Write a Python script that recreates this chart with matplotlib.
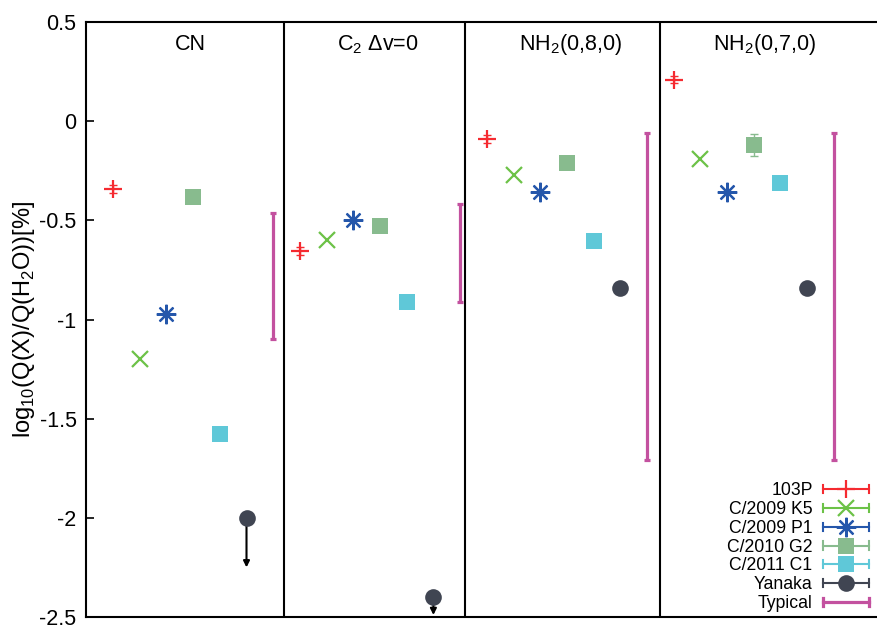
import matplotlib
matplotlib.use("Agg")
import matplotlib.pyplot as plt
from matplotlib.lines import Line2D
from matplotlib.legend_handler import HandlerBase

plt.rcParams['font.family'] = ['Liberation Sans', 'DejaVu Sans']
plt.rcParams['mathtext.fontset'] = 'custom'
plt.rcParams['mathtext.rm'] = 'Liberation Sans'

# ---- data -------------------------------------------------------------
panels = ['CN', r'C$_\mathregular{2}$ Δv=0',
          r'NH$_\mathregular{2}$(0,8,0)', r'NH$_\mathregular{2}$(0,7,0)']

comets = ['103P', 'C/2009 K5', 'C/2009 P1', 'C/2010 G2', 'C/2011 C1', 'Yanaka']

val_103P = [-0.34, -0.655, -0.09, 0.21]
val_K5 = [-1.20, -0.60, -0.27, -0.19]
val_P1 = [-0.97, -0.50, -0.355, -0.355]
val_G2 = [-0.38, -0.53, -0.21, -0.12]
val_C1 = [-1.575, -0.91, -0.605, -0.31]
val_Yanaka = [-2.00, -2.40, -0.84, -0.84]

err_103P = [0.02, 0.02, 0.02, 0.02]
err_G2 = [0.0, 0.0, 0.0, 0.055]

# Yanaka upper limits: end point of the downward arrow (None = detection)
yanaka_limit_end = [-2.25, -2.49, None, None]

typical_low = [-1.10, -0.91, -1.71, -1.71]
typical_high = [-0.465, -0.42, -0.06, -0.06]

ytick_values = [0.5, 0, -0.5, -1, -1.5, -2, -2.5]
ytick_labels = ['0.5', '0', '-0.5', '-1', '-1.5', '-2', '-2.5']

# ---- styles -----------------------------------------------------------
styles = {
    '103P':      dict(color='#f52a30', marker='+', ms=13, mew=1.6),
    'C/2009 K5': dict(color='#6cc247', marker='x', ms=11, mew=1.6),
    'C/2009 P1': dict(color='#2557ab', marker=(8, 2, 0), ms=14, mew=1.6),
    'C/2010 G2': dict(color='#88bb8e', marker='s', ms=11, mew=0),
    'C/2011 C1': dict(color='#5fc8d8', marker='s', ms=11, mew=0),
    'Yanaka':    dict(color='#404552', marker='o', ms=12, mew=0),
}
typical_color = '#c3519f'

series = {
    '103P': (val_103P, err_103P),
    'C/2009 K5': (val_K5, None),
    'C/2009 P1': (val_P1, None),
    'C/2010 G2': (val_G2, err_G2),
    'C/2011 C1': (val_C1, None),
    'Yanaka': (val_Yanaka, None),
}

n_slots = len(comets) + 1          # six comets plus the typical range
dividers = [7.4, 14.2, 21.5]
title_x = [3.88, 10.9, 18.15, 25.4]

# ---- figure -----------------------------------------------------------
W, H = 877, 626
fig = plt.figure(figsize=(W / 100, H / 100), dpi=100)
px_per_unit = 26.7
left_px, top_px, bottom_px = 86.3, 22, 617
xmax = 30
ax = fig.add_axes([left_px / W, 1 - bottom_px / H,
                   xmax * px_per_unit / W, (bottom_px - top_px) / H])
ax.set_xlim(0, xmax)
ax.set_ylim(-2.5, 0.5)

for i, name in enumerate(comets):
    vals, errs = series[name]
    st = styles[name]
    xs = [p * n_slots + i + 1 for p in range(len(panels))]
    if errs is not None:
        ax.errorbar(xs, vals, yerr=errs, fmt='none', ecolor=st['color'],
                    elinewidth=1.0, capsize=3, capthick=1.0, zorder=3)
    ax.plot(xs, vals, linestyle='none', marker=st['marker'], color=st['color'],
            markersize=st['ms'], markeredgewidth=st['mew'], zorder=4)

# upper-limit arrows for Yanaka
yi = comets.index('Yanaka')
for p, end in enumerate(yanaka_limit_end):
    if end is None:
        continue
    x = p * n_slots + yi + 1
    ax.annotate('', xy=(x, end), xytext=(x, val_Yanaka[p]),
                arrowprops=dict(arrowstyle='-|>', color='black', lw=1.5,
                                mutation_scale=9, shrinkA=0, shrinkB=0),
                zorder=2)

# typical abundance ranges
for p in range(len(panels)):
    x = p * n_slots + n_slots
    mid = (typical_low[p] + typical_high[p]) / 2
    half = (typical_high[p] - typical_low[p]) / 2
    ax.errorbar([x], [mid], yerr=[[half], [half]], fmt='none',
                ecolor=typical_color, elinewidth=2.3, capsize=2.3, capthick=2.3,
                zorder=3)

for d in dividers:
    ax.axvline(d, color='black', lw=1.5, zorder=1)

for p, t in enumerate(panels):
    ax.text(title_x[p], 0.385, t, ha='center', va='center', fontsize=15.5)

# axes cosmetics
ax.spines['right'].set_visible(False)
for s in ('left', 'top', 'bottom'):
    ax.spines[s].set_linewidth(1.5)
ax.set_xticks([])
ax.set_yticks(ytick_values)
ax.set_yticklabels(ytick_labels, fontsize=15.5)
ax.tick_params(axis='y', direction='in', length=6, width=1.2, pad=7)
ax.set_ylabel(r'log$_\mathregular{10}$(Q(X)/Q(H$_\mathregular{2}$O))[%]',
              fontsize=17)
ax.yaxis.set_label_coords(-0.062, 0.5)


# legend: horizontal sample line with end caps and the marker in the middle
class CapLineHandler(HandlerBase):
    def __init__(self, color, marker=None, ms=0, mew=0, lw=1.5):
        super().__init__()
        self.color, self.marker, self.ms, self.mew, self.lw = color, marker, ms, mew, lw

    def create_artists(self, legend, orig_handle, xdescent, ydescent,
                       width, height, fontsize, trans):
        y = height / 2 - ydescent
        x0, x1 = -xdescent, width - xdescent
        cap = 3.0
        arts = [
            Line2D([x0, x1], [y, y], color=self.color, lw=self.lw),
            Line2D([x0, x0], [y - cap, y + cap], color=self.color, lw=self.lw),
            Line2D([x1, x1], [y - cap, y + cap], color=self.color, lw=self.lw),
        ]
        if self.marker is not None:
            arts.append(Line2D([(x0 + x1) / 2], [y], linestyle='none',
                               marker=self.marker, color=self.color,
                               markersize=self.ms, markeredgewidth=self.mew))
        for a in arts:
            a.set_transform(trans)
        return arts


handles, labels, hmap = [], [], {}
for name in comets:
    st = styles[name]
    h = Line2D([], [])
    handles.append(h)
    labels.append(name)
    hmap[h] = CapLineHandler(st['color'], st['marker'], st['ms'], st['mew'])
ht = Line2D([], [])
handles.append(ht)
labels.append('Typical')
hmap[ht] = CapLineHandler(typical_color, lw=2.3)

leg = ax.legend(handles, labels, handler_map=hmap, loc='lower right',
                bbox_to_anchor=(869 / W, 1 - 612 / H),
                bbox_transform=fig.transFigure, frameon=False,
                markerfirst=False, fontsize=12.7, handlelength=2.6,
                handletextpad=0.6, labelspacing=0.05, borderpad=0,
                borderaxespad=0, handleheight=1.0)

fig.savefig('out.png', dpi=100)
